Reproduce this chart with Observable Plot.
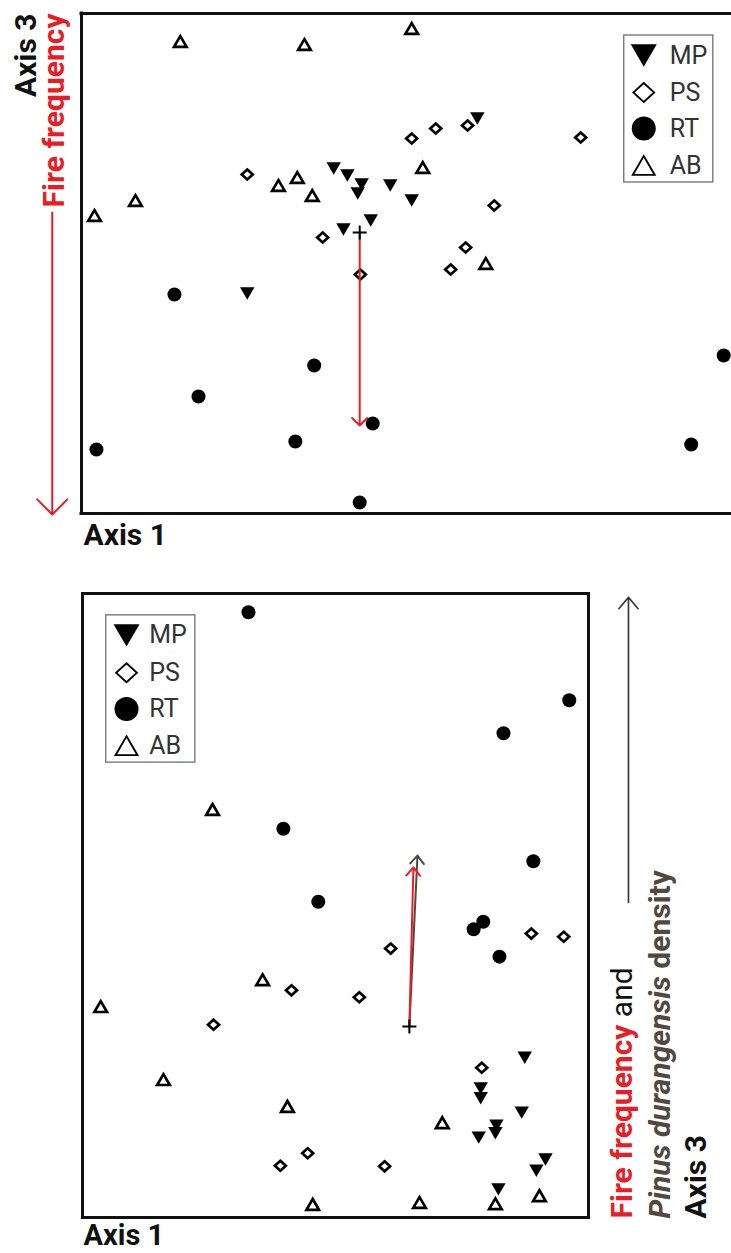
<!DOCTYPE html>
<html>
<head>
<meta charset="utf-8">
<script src="https://cdn.jsdelivr.net/npm/d3@7"></script>
<script src="https://cdn.jsdelivr.net/npm/@observablehq/plot@0.6"></script>
<style>
  html, body { margin: 0; padding: 0; background: #fff; }
  #page { position: relative; width: 731px; height: 1253px; overflow: hidden; background: #fff; }
  #panelA { position: absolute; left: 0; top: 0; }
  #panelB { position: absolute; left: 0; top: 560px; }
</style>
</head>
<body>
<div id="page"><div id="panelA"></div><div id="panelB"></div></div>
<script>
const RED = "#ec1c24";
const BROWN = "#52483f";
const INK = "#111";

const groups = ["MP", "PS", "RT", "AB"];

// Panel A — plot scores on ordination axis 1 and axis 3 (relative units, 0–100 of the frame)
const mpAxis1A = [38.8, 40.9, 43.1, 42.5, 47.5, 50.8, 44.5, 40.3, 60.9, 25.5];
const mpAxis3A = [69.0, 67.6, 65.8, 64.0, 65.6, 62.6, 58.6, 56.8, 79.0, 44.0];
const psAxis1A = [25.5, 50.8, 54.5, 59.4, 76.8, 63.5, 37.1, 42.9, 56.8, 59.1];
const psAxis3A = [67.8, 75.0, 77.0, 77.6, 75.2, 61.6, 55.2, 47.8, 48.8, 53.2];
const rtAxis1A = [14.3, 18.0, 2.3, 35.8, 44.8, 32.9, 42.8, 98.8, 93.8];
const rtAxis3A = [43.8, 23.4, 12.8, 29.6, 18.0, 14.4, 2.2, 31.6, 13.8];
const abAxis1A = [15.2, 34.3, 50.8, 2.0, 8.3, 30.3, 33.2, 35.5, 52.5, 62.2];
const abAxis3A = [94.4, 93.8, 97.0, 59.6, 62.6, 65.6, 67.2, 63.6, 69.2, 50.0];
const centroidA = [42.8, 56.2];
const fireTipA = [42.8, 17.6];

// Panel B — plot scores on ordination axis 1 and axis 3
const mpAxis1B = [87.4, 78.7, 78.7, 86.8, 78.3, 81.8, 81.6, 91.5, 89.7, 82.2];
const mpAxis3B = [25.6, 20.7, 19.1, 16.8, 12.8, 14.7, 13.5, 9.3, 7.5, 4.5];
const psAxis1B = [41.3, 25.9, 44.5, 39.1, 60.9, 54.7, 88.7, 95.1, 78.9, 59.7];
const psAxis3B = [36.4, 30.9, 10.3, 8.3, 43.1, 35.3, 45.5, 45.0, 24.0, 8.2];
const rtAxis1B = [32.8, 96.2, 83.2, 39.7, 89.1, 46.6, 79.2, 77.3, 82.4];
const rtAxis3B = [97.0, 82.9, 77.6, 62.3, 57.1, 50.6, 47.4, 46.2, 41.8];
const abAxis1B = [25.7, 3.6, 35.6, 16.0, 40.5, 45.5, 71.1, 66.6, 81.6, 90.3];
const abAxis3B = [65.4, 33.8, 38.1, 22.1, 17.8, 2.1, 15.2, 2.4, 2.2, 3.5];
const centroidB = [64.6, 30.6];
const fireTipB = [65.4, 56.1];
const pinusTipB = [66.2, 58.0];

const toRows = (xs, ys) => xs.map((x, i) => ({axis1: x, axis3: ys[i]}));
const panelA = {MP: toRows(mpAxis1A, mpAxis3A), PS: toRows(psAxis1A, psAxis3A), RT: toRows(rtAxis1A, rtAxis3A), AB: toRows(abAxis1A, abAxis3A)};
const panelB = {MP: toRows(mpAxis1B, mpAxis3B), PS: toRows(psAxis1B, psAxis3B), RT: toRows(rtAxis1B, rtAxis3B), AB: toRows(abAxis1B, abAxis3B)};

// Marker shapes (size is Plot's r*r*π)
const rad = size => Math.sqrt(size / Math.PI);
const triDown = {draw(c, size) { const r = rad(size), h = 0.86 * r; c.moveTo(-r, -h); c.lineTo(r, -h); c.lineTo(0, h); c.closePath(); }};
const triUp = {draw(c, size) { const r = rad(size), h = 0.86 * r; c.moveTo(0, -h); c.lineTo(r, h); c.lineTo(-r, h); c.closePath(); }};
const diamond = {draw(c, size) { const r = rad(size); c.moveTo(0, -r); c.lineTo(1.1 * r, 0); c.lineTo(0, r); c.lineTo(-1.1 * r, 0); c.closePath(); }};
const disc = {draw(c, size) { const r = rad(size); c.moveTo(r, 0); c.arc(0, 0, r, 0, 2 * Math.PI); }};
const plus = {draw(c, size) { const r = rad(size); c.moveTo(-r, 0); c.lineTo(r, 0); c.moveTo(0, -r); c.lineTo(0, r); }};

const marker = {
  MP: {symbol: triDown, fill: "#000", stroke: "none", strokeWidth: 0, r: 7.2, legendR: 13, legendStroke: 0},
  PS: {symbol: diamond, fill: "#fff", stroke: "#000", strokeWidth: 2.7, r: 5, legendR: 9.5, legendStroke: 1.8},
  RT: {symbol: disc, fill: "#000", stroke: "none", strokeWidth: 0, r: 7, legendR: 12, legendStroke: 0},
  AB: {symbol: triUp, fill: "#fff", stroke: "#000", strokeWidth: 2.7, r: 6.3, legendR: 11, legendStroke: 1.8}
};
const drawOrder = ["AB", "PS", "RT", "MP"];

function pointMarks(panel) {
  return drawOrder.map(g => Plot.dot(panel[g], {
    x: "axis1", y: "axis3", symbol: marker[g].symbol, r: marker[g].r,
    fill: marker[g].fill, stroke: marker[g].stroke, strokeWidth: marker[g].strokeWidth
  }));
}

function legendMarks(box, symX, textX, rowY) {
  const rows = groups.map((g, i) => ({group: g, y: rowY[i]}));
  return [
    Plot.rect([box], {x1: "x1", x2: "x2", y1: "y1", y2: "y2", fill: "#fff", stroke: "#6f6f6f", strokeWidth: 1.3}),
    ...rows.map(d => Plot.dot([d], {
      x: () => symX, y: "y", symbol: marker[d.group].symbol, r: marker[d.group].legendR,
      fill: marker[d.group].fill, stroke: marker[d.group].stroke, strokeWidth: marker[d.group].legendStroke
    })),
    Plot.text(rows, {x: () => textX, y: "y", text: "group", textAnchor: "start", fontSize: 25, fill: "#333"})
  ];
}

const vec = (from, to) => [{x1: from[0], y1: from[1], x2: to[0], y2: to[1]}];
const bold = {fontSize: 30, fontWeight: "bold", rotate: -90, lineAnchor: "bottom"};

// Panel A: axis 1 × axis 3 with the fire-frequency vector
const plotA = Plot.plot({
  width: 731, height: 560,
  marginLeft: 81, marginRight: 0, marginTop: 13, marginBottom: 47,
  x: {domain: [0, 100], axis: null},
  y: {domain: [0, 100], axis: null},
  style: {fontFamily: "Roboto, sans-serif", background: "#fff", overflow: "visible"},
  marks: [
    Plot.ruleY([0, 100], {stroke: INK, strokeWidth: 3, strokeLinecap: "square"}),
    Plot.ruleX([0], {stroke: INK, strokeWidth: 3, strokeLinecap: "square"}),
    ...pointMarks(panelA),
    Plot.arrow(vec(centroidA, fireTipA), {x1: "x1", y1: "y1", x2: "x2", y2: "y2", stroke: RED, strokeWidth: 2, headLength: 8, headAngle: 90}),
    Plot.dot([centroidA], {x: d => d[0], y: d => d[1], symbol: plus, r: 7, stroke: "#000", strokeWidth: 2, fill: "none"}),
    ...legendMarks({x1: 83.5, x2: 97.2, y1: 66.2, y2: 95.6}, 86.5, 90.5, [91.6, 84.2, 77.0, 69.6]),
    // axis direction cue on the left
    Plot.arrow([{x1: -4.5, y1: 60.2, x2: -4.5, y2: -0.2}], {x1: "x1", y1: "y1", x2: "x2", y2: "y2", stroke: RED, strokeWidth: 2, headLength: 16, headAngle: 90}),
    Plot.text(["Axis 3"], {...bold, frameAnchor: "top-left", dx: -46, dy: 0, textAnchor: "end", fill: INK}),
    Plot.text(["Fire frequency"], {...bold, frameAnchor: "top-left", dx: -18, dy: 0, textAnchor: "end", fill: RED}),
    Plot.text(["Axis 1"], {fontSize: 30, fontWeight: "bold", lineAnchor: "bottom", frameAnchor: "bottom-left", dx: 2, dy: 31, textAnchor: "start", fill: INK})
  ]
});

// Panel B: axis 1 × axis 3 with fire frequency and Pinus durangensis density vectors
const plotB = Plot.plot({
  width: 731, height: 693,
  marginLeft: 82, marginRight: 143, marginTop: 33, marginBottom: 36,
  x: {domain: [0, 100], axis: null},
  y: {domain: [0, 100], axis: null},
  style: {fontFamily: "Roboto, sans-serif", background: "#fff", overflow: "visible"},
  marks: [
    Plot.frame({stroke: INK, strokeWidth: 3}),
    ...pointMarks(panelB),
    Plot.arrow(vec(centroidB, pinusTipB), {x1: "x1", y1: "y1", x2: "x2", y2: "y2", stroke: BROWN, strokeWidth: 2, headLength: 8, headAngle: 80}),
    Plot.arrow(vec(centroidB, fireTipB), {x1: "x1", y1: "y1", x2: "x2", y2: "y2", stroke: RED, strokeWidth: 2, headLength: 8, headAngle: 80}),
    Plot.dot([centroidB], {x: d => d[0], y: d => d[1], symbol: plus, r: 7, stroke: "#000", strokeWidth: 2, fill: "none"}),
    ...legendMarks({x1: 4.7, x2: 22.3, y1: 72.9, y2: 96.5}, 8.7, 13.2, [93.3, 87.3, 81.5, 75.6]),
    // axis direction cue on the right
    Plot.arrow([{x1: 107.9, y1: 50.5, x2: 107.9, y2: 99.4}], {x1: "x1", y1: "y1", x2: "x2", y2: "y2", stroke: "#333", strokeWidth: 1.6, headLength: 14, headAngle: 80}),
    Plot.text(["Fire frequency and"], {...bold, frameAnchor: "bottom-right", dx: 43, dy: 1, textAnchor: "start", fill: RED}),
    Plot.text(["Pinus durangensis density"], {...bold, frameAnchor: "bottom-right", dx: 81, dy: 1, textAnchor: "start", fill: BROWN}),
    Plot.text(["Axis 3"], {...bold, frameAnchor: "bottom-right", dx: 117, dy: 1, textAnchor: "start", fill: INK}),
    Plot.text(["Axis 1"], {fontSize: 29, fontWeight: "bold", lineAnchor: "bottom", frameAnchor: "bottom-left", dx: 1, dy: 27, textAnchor: "start", fill: INK})
  ]
});

// Mixed styling inside the right-hand axis title
function styleRuns(svg, whole, runs) {
  d3.select(svg).selectAll("text").filter(function() { return this.textContent === whole; }).each(function() {
    const t = d3.select(this);
    t.text(null);
    for (const [str, attrs] of runs) {
      const s = t.append("tspan").text(str);
      for (const k in attrs) s.attr(k, attrs[k]);
    }
  });
}
styleRuns(plotB, "Fire frequency and", [["Fire frequency", {fill: RED}], [" and", {fill: INK, "font-weight": "normal"}]]);
styleRuns(plotB, "Pinus durangensis density", [["Pinus durangensis", {"font-style": "italic"}], [" density", {}]]);

document.getElementById("panelA").append(plotA);
document.getElementById("panelB").append(plotB);
</script>
</body>
</html>
